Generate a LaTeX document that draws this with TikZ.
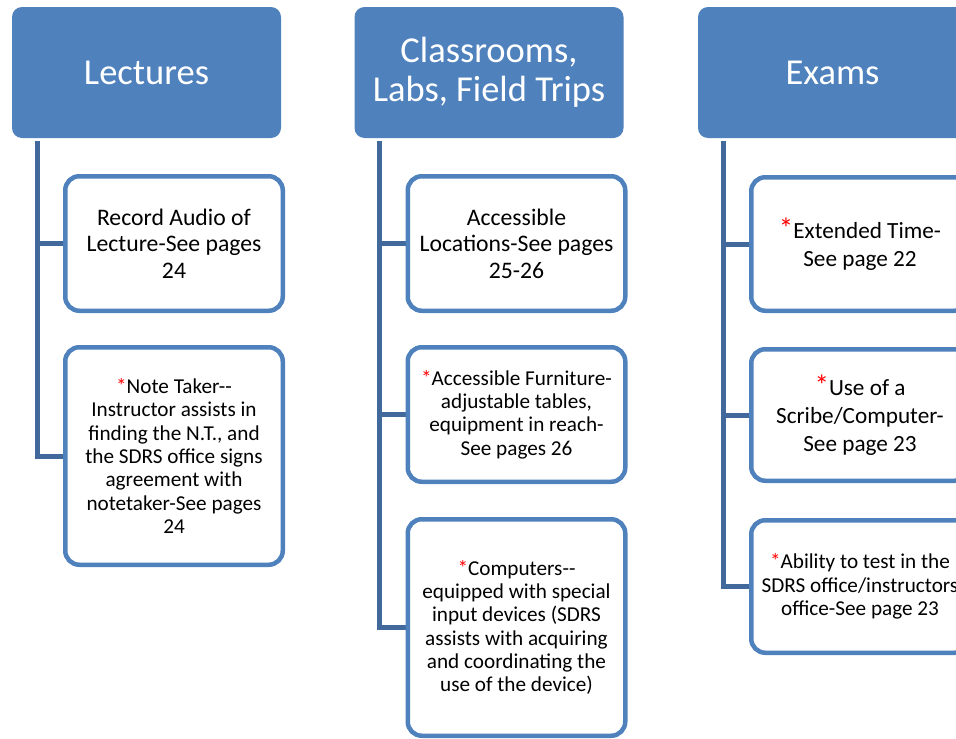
\documentclass[tikz,border=0pt]{standalone}
\usepackage{fontspec}
\setmainfont{Carlito}
\usetikzlibrary{backgrounds}
\definecolor{accent}{HTML}{4F81BD}
\definecolor{connc}{HTML}{41699B}
\newcommand{\rast}{\textcolor{red}{*}}
\newcommand{\bigast}{\textcolor{red}{\fontsize{29}{29}\selectfont *}}
\newcommand{\fbig}{\fontsize{23.7}{26.5}\selectfont}
\newcommand{\fmid}{\fontsize{23.2}{28.3}\selectfont}
\newcommand{\fsmall}{\fontsize{21.2}{23.3}\selectfont}
\begin{document}
\begin{tikzpicture}[x=1pt,y=-1pt,
  head/.style={fill=accent, rounded corners=10pt, text=white, minimum width=269pt,
    minimum height=131pt, inner sep=0pt, outer sep=0pt, align=center,
    font=\fontsize{36.5}{38.5}\selectfont},
  item/.style={draw=accent, line width=4.5pt, fill=white, rounded corners=14pt,
    inner sep=0pt, outer sep=0pt, align=center, minimum width=217.5pt, text=black},
  conn/.style={draw=connc, line width=5pt}]
\useasboundingbox (0,0) rectangle (956,739);

\node[head] (hL) at (146.5,72.5) {Lectures};
\node[head] (hC) at (489,72.5) {Classrooms,\\Labs, Field Trips};
\node[head] (hE) at (832.5,72.5) {Exams};

\node[item, minimum height=134.5pt, font=\fbig] (L1) at (174,243.5) {Record Audio of\\Lecture-See pages\\24};
\node[item, minimum height=217.5pt, font=\fsmall] (L2) at (174,456) {\rast Note Taker-{}-\\Instructor assists in\\finding the N.T., and\\the SDRS office signs\\agreement with\\notetaker-See pages\\24};

\node[item, minimum height=134.5pt, font=\fbig] (C1) at (516.5,243.5) {Accessible\\Locations-See pages\\25-26};
\node[item, minimum height=134.5pt, font=\fsmall] (C2) at (516.5,414.5) {\rast Accessible Furniture-\\adjustable tables,\\equipment in reach-\\See pages 26};
\node[item, minimum height=216.5pt, font=\fsmall] (C3) at (516.5,627.5) {\rast Computers-{}-\\equipped with special\\input devices (SDRS\\assists with acquiring\\and coordinating the\\use of the device)};

\node[item, minimum height=133.5pt, font=\fmid] (E1) at (860,244) {\bigast Extended Time-\\See page 22};
\node[item, minimum height=131.5pt, font=\fmid] (E2) at (860,415) {\bigast Use of a\\Scribe/Computer-\\See page 23};
\node[item, minimum height=132.5pt, font=\fsmall] (E3) at (860,586.5) {\rast Ability to test in the\\SDRS office/instructors\\office-See page 23};

\coordinate (tL) at (37,141);
\coordinate (tC) at (379.5,141);
\coordinate (tE) at (723,141);

\begin{scope}[on background layer]
\fill[white] (0,0) rectangle (956,739);
\draw[conn] (tL) |- (L2.west);
\draw[conn] (tL |- L1.west) -- (L1.west);
\draw[conn] (tC) |- (C3.west);
\draw[conn] (tC |- C1.west) -- (C1.west);
\draw[conn] (tC |- C2.west) -- (C2.west);
\draw[conn] (tE) |- (E3.west);
\draw[conn] (tE |- E1.west) -- (E1.west);
\draw[conn] (tE |- E2.west) -- (E2.west);
\end{scope}
\end{tikzpicture}
\end{document}
